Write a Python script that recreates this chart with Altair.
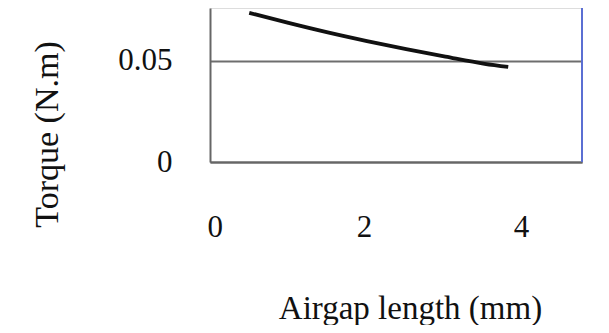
import altair as alt
import pandas as pd

airgap_mm = [0.5, 1.0, 1.5, 2.0, 2.5, 3.0, 3.5, 3.8]
torque_nm = [0.0738, 0.0688, 0.0641, 0.0598, 0.0558, 0.0521, 0.0486, 0.0471]
x_ticks = [0, 2, 4]
y_ticks = [0, 0.05]
x_max = 4.74
y_max = 0.0762

df = pd.DataFrame({"airgap": airgap_mm, "torque": torque_nm})
edge = pd.DataFrame({"x": [x_max]})

FONT = "Liberation Serif"

xscale = alt.Scale(domain=[0, x_max], nice=False, zero=False)
yscale = alt.Scale(domain=[0, y_max], nice=False, zero=False)

line = alt.Chart(df).mark_line(color="#111111", strokeWidth=3.8, interpolate="monotone").encode(
    x=alt.X("airgap:Q", scale=xscale,
            axis=alt.Axis(values=x_ticks, format="d", title="Airgap length (mm)",
                          grid=False, ticks=False, tickSize=0, labelPadding=50, labelOffset=-3,
                          labelFont=FONT, labelFontSize=31, labelColor="#111111",
                          domainColor="#666666", domainWidth=2,
                          titleFont=FONT, titleFontSize=33, titleFontWeight="normal",
                          titleColor="#111111", titleBaseline="alphabetic",
                          titleX=200, titleY=156, titleAnchor="start", titleAlign="center")),
    y=alt.Y("torque:Q", scale=yscale,
            axis=alt.Axis(values=y_ticks, format=".2~f", title="Torque (N.m)",
                          grid=True, gridColor="#6e6e6e", gridWidth=2,
                          ticks=False, tickSize=0, labelPadding=38,
                          labelFont=FONT, labelFontSize=31, labelColor="#111111",
                          domainColor="#666666", domainWidth=2,
                          titleFont=FONT, titleFontSize=34, titleFontWeight="normal",
                          titleColor="#111111", titleAngle=-90, titleBaseline="middle",
                          titleAlign="center", titleX=-163, titleY=126)),
)

right_edge = alt.Chart(edge).mark_rule(color="#5b6fd3", strokeWidth=2).encode(
    x=alt.X("x:Q", scale=xscale)
)

chart = (line + right_edge).properties(
    width=372, height=154,
    autosize=alt.AutoSizeParams(type="none"),
    padding={"left": 202, "top": 0, "right": 19, "bottom": 163},
).configure_view(stroke=None).configure(background="white")

chart.save("out.html", embed_options={"renderer": "svg", "actions": False})
